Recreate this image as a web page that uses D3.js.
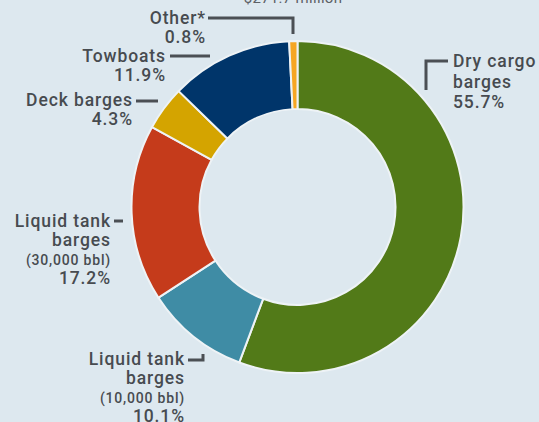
<!DOCTYPE html>
<html>
<head>
<meta charset="utf-8">
<script src="https://cdn.jsdelivr.net/npm/d3@7"></script>
<style>
  html, body { margin: 0; padding: 0; background: #dde8ef; }
  svg { display: block; }
  text { font-family: Roboto, "DejaVu Sans", sans-serif; font-weight: 500; fill: #474b50; letter-spacing: 0.9px; }
</style>
</head>
<body>
<svg id="chart" width="539" height="422"></svg>
<script>
// Share of value by vessel type
const categories = ["Dry cargo barges", "Liquid tank barges", "Liquid tank barges", "Deck barges", "Towboats", "Other*"];
const nameLines = [["Dry cargo", "barges"], ["Liquid tank", "barges"], ["Liquid tank", "barges"], ["Deck barges"], ["Towboats"], ["Other*"]];
const subLabels = [null, "(10,000 bbl)", "(30,000 bbl)", null, null, null];
const shares = [55.7, 10.1, 17.2, 4.3, 11.9, 0.8];
const colors = ["#527a18", "#3f8ca5", "#c53b1b", "#d4a400", "#00356a", "#f6a623"];
const totalLabel = "$271.7 million";

const svg = d3.select("#chart");
const cx = 297.5, cy = 207, rOuter = 166, rInner = 98;

const pie = d3.pie().sort(null).value(d => d).startAngle(0).endAngle(2 * Math.PI);
const arc = d3.arc().innerRadius(rInner).outerRadius(rOuter);

const g = svg.append("g").attr("transform", `translate(${cx},${cy})`);
g.selectAll("path")
  .data(pie(shares))
  .join("path")
  .attr("d", arc)
  .attr("fill", (d, i) => colors[i])
  .attr("stroke", "#eef3f6")
  .attr("stroke-width", 2)
  .attr("stroke-linejoin", "round");

svg.append("text")
  .attr("x", 293).attr("y", 3)
  .attr("text-anchor", "middle")
  .attr("font-size", 15)
  .style("font-weight", 400)
  .style("letter-spacing", "0.3px")
  .style("fill", "#5d6166")
  .text(totalLabel);

// label anchors: text x/y of first line, alignment, and leader polyline
const layout = [
  { x: 453, y: 67, anchor: "start", leader: [[426, 90], [426, 61], [448, 61]] },
  { x: 185, y: 365, anchor: "end", leader: [[188, 360], [203, 360], [203, 354]] },
  { x: 111, y: 227, anchor: "end", leader: [[114, 221], [123, 221]] },
  { x: 133, y: 106, anchor: "end", leader: [[136, 101], [158, 101]] },
  { x: 166, y: 62, anchor: "end", leader: [[170, 56], [210, 56]] },
  { x: 206, y: 24, anchor: "end", leader: [[208, 18], [293, 18], [293, 34]] }
];

const fmt = d3.format(".1f");
const line = d3.line();

layout.forEach((L, i) => {
  svg.append("path")
    .attr("d", line(L.leader))
    .attr("fill", "none")
    .attr("stroke", "#4b4f54")
    .attr("stroke-width", 3);

  const t = svg.append("text")
    .attr("text-anchor", L.anchor)
    .attr("font-size", 17.5);
  const step = i === 0 ? 20.5 : 19;
  let y = L.y;
  nameLines[i].forEach((s, k) => {
    t.append("tspan").attr("x", L.x).attr("y", y).text(s);
    y += step;
  });
  if (subLabels[i]) {
    t.append("tspan").attr("x", L.x).attr("y", y).attr("font-size", 14).style("letter-spacing", "0.8px").text(subLabels[i]);
    y += step;
  }
  t.append("tspan").attr("x", L.x).attr("y", y).text(fmt(shares[i]) + "%");
});
</script>
</body>
</html>
